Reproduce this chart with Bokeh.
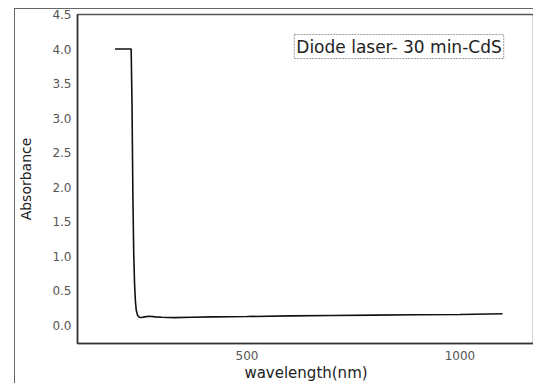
from bokeh.plotting import figure
from bokeh.models import Range1d, FixedTicker, Label, NumeralTickFormatter
from bokeh.embed import file_html
from bokeh.resources import INLINE

# Data (wavelength in nm, absorbance)
wavelength = [190, 205, 228, 230, 232, 234, 236, 238, 240, 243, 247, 252, 260, 270, 285, 300,
              330, 370, 420, 500, 600, 700, 800, 900, 1000, 1100]
absorbance = [4.0, 4.0, 4.0, 3.2, 1.9, 1.05, 0.6, 0.35, 0.22, 0.15, 0.12, 0.115, 0.125, 0.135,
              0.125, 0.12, 0.115, 0.12, 0.125, 0.13, 0.14, 0.145, 0.15, 0.155, 0.16, 0.17]
y_ticks = [0.0, 0.5, 1.0, 1.5, 2.0, 2.5, 3.0, 3.5, 4.0, 4.5]
x_ticks = [500, 1000]
legend_text = "Diode laser- 30 min-CdS"
y_title = "Absorbance"
x_title = "wavelength(nm)"

FONT = "DejaVu Sans"

# the figure sits inside the original picture's outer frame (left and top edges)
p = figure(width=519, height=375, output_backend="svg", toolbar_location=None,
           x_range=Range1d(102, 1175), y_range=Range1d(-0.26, 4.5),
           min_border_left=62, min_border_right=0, min_border_top=5, min_border_bottom=40,
           background_fill_color="white", border_fill_color="white")
p.styles = {"margin-left": "14px", "margin-top": "8px",
            "border-left": "1.5px solid #666666", "border-top": "1.5px solid #666666"}

p.line(wavelength, absorbance, line_color="#111111", line_width=1.6)

p.xgrid.visible = False
p.ygrid.visible = False
p.outline_line_color = "#555555"
p.outline_line_width = 1.5

for ax in (p.xaxis[0], p.yaxis[0]):
    ax.axis_line_color = "#333333"
    ax.axis_line_width = 1.5
    ax.major_tick_line_color = None
    ax.minor_tick_line_color = None
    ax.major_label_text_font = FONT
    ax.major_label_text_font_size = "12px"
    ax.major_label_text_color = "#555555"
    ax.axis_label_text_font = FONT
    ax.axis_label_text_font_style = "normal"
    ax.axis_label_text_color = "#222222"

p.yaxis.ticker = FixedTicker(ticks=y_ticks)
p.yaxis.formatter = NumeralTickFormatter(format="0.0")
p.yaxis.major_label_standoff = 0
p.yaxis.axis_label = y_title
p.yaxis.axis_label_text_font_size = "14px"
p.yaxis.axis_label_standoff = 15

p.xaxis.ticker = FixedTicker(ticks=x_ticks)
p.xaxis.major_label_standoff = 1
p.xaxis.axis_label = x_title
p.xaxis.axis_label_text_font_size = "15px"
p.xaxis.axis_label_standoff = 1

# legend-like boxed label
p.add_layout(Label(x=611, y=4.21, text=legend_text, anchor="top_left",
                   text_font=FONT, text_font_size="17px", text_color="#222222",
                   border_line_color="#999999", border_line_dash="2 1", border_line_width=1,
                   background_fill_color="white", padding=2))

open("out.html", "w").write(file_html(p, INLINE))
